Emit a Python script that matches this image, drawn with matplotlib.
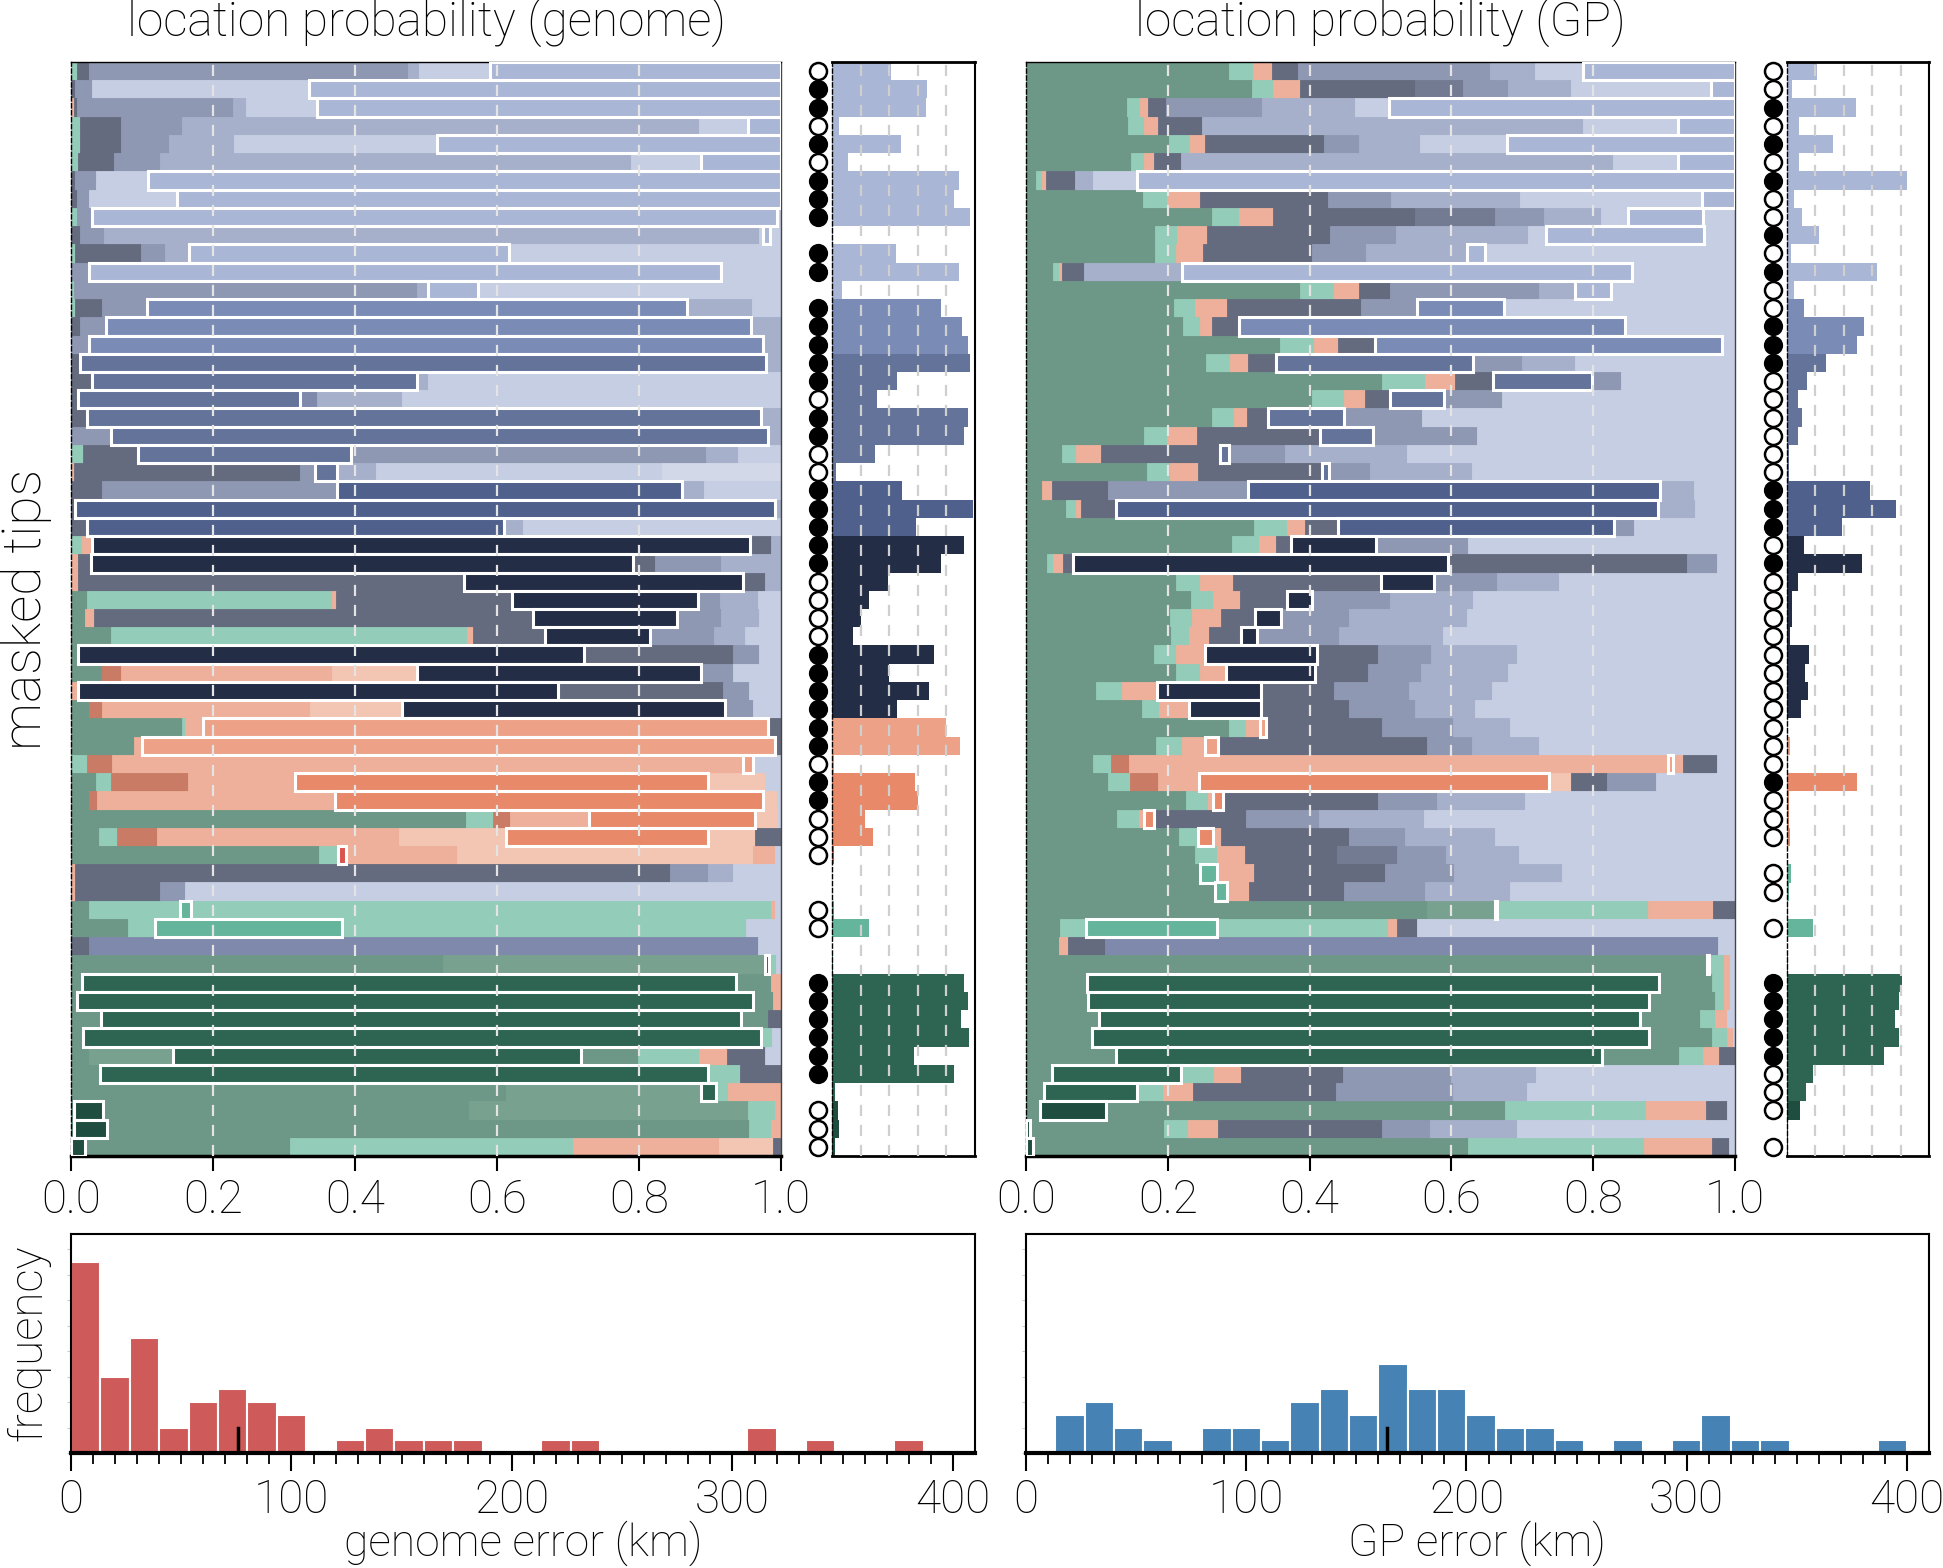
import matplotlib
matplotlib.use("Agg")
import matplotlib.pyplot as plt
import numpy as np

plt.rcParams['font.family'] = ['Roboto', 'DejaVu Sans']
plt.rcParams['font.weight'] = 'light'

# faded colours for non-true locations, full colours for the true location
FADED = {
    'G': '#6d9786', 'G2': '#79a18f', 'M': '#93ccb8', 'S': '#eeb09a', 'S2': '#f3c5b3',
    'D': '#c97b65', 'N': '#656b7e', 'N2': '#737b93', 'P': '#7f89ab', 'B': '#8e98b3',
    'C': '#a6b0ca', 'L': '#c6cee3', 'W': '#d2d8e8',
}
TRUE = {
    'tg': '#2d6452', 'tgd': '#1f4e40', 'tt': '#64b59b', 'ts': '#eda287', 'to': '#e8896a',
    'tr': '#d9534f', 'tn': '#232d46', 'tb1': '#4f608c', 'tb2': '#63739a', 'tb3': '#7a8bb6',
    'tb4': '#aab6d5',
}

# location probability per masked tip (genome model), segments in plotting order
genome_rows = [
    [('M', .008), ('N', .018), ('B', .449), ('C', .015), ('L', .10), ('tb4', .41)],
    [('N', .006), ('B', .024), ('L', .305), ('tb4', .664)],
    [('S', .004), ('N', .004), ('B', .22), ('C', .018), ('L', .10), ('tb4', .654)],
    [('M', .013), ('N', .058), ('B', .085), ('C', .729), ('L', .068), ('tb4', .047)],
    [('M', .013), ('N', .058), ('B', .067), ('C', .092), ('L', .285), ('tb4', .485)],
    [('M', .01), ('N', .05), ('B', .065), ('C', .664), ('L', .099), ('tb4', .112)],
    [('N', .005), ('B', .03), ('L', .074), ('tb4', .891)],
    [('N', .008), ('B', .018), ('L', .123), ('tb4', .851)],
    [('M', .008), ('B', .022), ('tb4', .964), ('L', .006)],
    [('N', .013), ('B', .034), ('C', .922), ('L', .006), ('tb4', .009), ('L', .016)],
    [('M', .006), ('N', .092), ('B', .034), ('C', .034), ('tb4', .451), ('L', .383)],
    [('B', .026), ('tb4', .889), ('L', .085)],
    [('M', .004), ('B', .484), ('C', .015), ('tb4', .07), ('L', .427)],
    [('M', .006), ('N', .038), ('B', .063), ('tb3', .76), ('C', .092), ('L', .041)],
    [('N', .013), ('B', .036), ('tb3', .909), ('C', .042)],
    [('B', .026), ('tb3', .948), ('C', .026)],
    [('N', .013), ('tb2', .966), ('C', .021)],
    [('N', .03), ('tb2', .458), ('C', .015), ('L', .497)],
    [('N', .01), ('tb2', .312), ('P', .024), ('C', .12), ('L', .534)],
    [('N', .022), ('tb2', .95), ('C', .028)],
    [('B', .057), ('tb2', .925), ('C', .018)],
    [('M', .017), ('N', .078), ('tb2', .30), ('B', .50), ('C', .045), ('L', .06)],
    [('S', .004), ('N', .318), ('B', .022), ('tb2', .03), ('C', .055), ('L', .404), ('W', .167)],
    [('N', .044), ('B', .33), ('tb1', .487), ('C', .031), ('L', .108)],
    [('N', .005), ('tb1', .986), ('C', .009)],
    [('N', .022), ('tb1', .588), ('C', .027), ('L', .363)],
    [('M', .015), ('S', .015), ('tn', .926), ('N', .03), ('C', .014)],
    [('S', .01), ('N', .018), ('tn', .763), ('N', .031), ('B', .094), ('C', .084)],
    [('S', .01), ('N', .544), ('tn', .392), ('N', .031), ('C', .023)],
    [('G', .022), ('M', .345), ('S', .006), ('N', .248), ('tn', .262), ('B', .031), ('C', .054), ('L', .032)],
    [('G', .02), ('S', .013), ('N', .618), ('tn', .202), ('B', .062), ('C', .054), ('L', .031)],
    [('G', .057), ('M', .501), ('S', .008), ('N', .101), ('tn', .149), ('B', .089), ('C', .045), ('L', .05)],
    [('G', .01), ('tn', .712), ('N', .211), ('B', .036), ('L', .031)],
    [('G', .044), ('D', .027), ('S', .296), ('S2', .121), ('tn', .40), ('B', .045), ('L', .067)],
    [('S', .01), ('tn', .676), ('N', .233), ('B', .036), ('L', .045)],
    [('G', .026), ('D', .018), ('S', .292), ('S2', .13), ('tn', .455), ('B', .039), ('L', .04)],
    [('G', .156), ('M', .005), ('S', .025), ('ts', .796), ('N', .018)],
    [('G', .089), ('S', .011), ('ts', .892), ('N', .008)],
    [('M', .022), ('D', .036), ('S', .889), ('ts', .013), ('L', .04)],
    [('G', .035), ('M', .022), ('D', .108), ('S', .15), ('to', .582), ('S2', .081), ('L', .022)],
    [('G', .026), ('D', .01), ('S', .336), ('to', .603), ('S2', .019), ('L', .006)],
    [('G', .556), ('M', .039), ('D', .024), ('S', .11), ('to', .234), ('S2', .033), ('L', .004)],
    [('G', .04), ('M', .025), ('D', .056), ('S', .341), ('S2', .151), ('to', .285), ('S2', .067), ('N', .036)],
    [('G', .349), ('M', .027), ('tr', .011), ('S', .157), ('S2', .417), ('S', .03), ('L', .009)],
    [('S', .005), ('N', .838), ('B', .054), ('C', .036), ('L', .067)],
    [('S', .005), ('N', .12), ('B', .036), ('L', .839)],
    [('G', .026), ('M', .127), ('tt', .016), ('M', .817), ('S', .006), ('L', .008)],
    [('G', .08), ('M', .039), ('tt', .262), ('M', .57), ('L', .049)],
    [('N', .026), ('P', .942), ('L', .032)],
    [('G', .524), ('G2', .453), ('tg', .006), ('M', .01), ('L', .007)],
    [('G', .015), ('tg', .922), ('G', .049), ('S', .014)],
    [('G', .008), ('tg', .952), ('G', .029), ('S', .011)],
    [('G', .042), ('tg', .902), ('G', .038), ('N', .018)],
    [('G', .017), ('tg', .955), ('M', .015), ('L', .013)],
    [('G', .026), ('G2', .117), ('tg', .575), ('G', .081), ('M', .085), ('S', .04), ('N', .054), ('L', .022)],
    [('G', .041), ('tg', .856), ('M', .045), ('N', .058)],
    [('G', .612), ('G2', .276), ('tg', .02), ('M', .018), ('S', .074)],
    [('G', .004), ('tgd', .041), ('G', .516), ('G2', .392), ('M', .039), ('S', .008)],
    [('G', .004), ('tgd', .046), ('G', .905), ('M', .031), ('S', .014)],
    [('tgd', .02), ('G', .289), ('M', .398), ('S', .206), ('S2', .076), ('N', .011)],
]

# location probability per masked tip (GP model)
gp_rows = [
    [('G', .286), ('M', .034), ('S', .027), ('N', .036), ('B', .271), ('C', .064), ('L', .068), ('tb4', .214)],
    [('G', .319), ('M', .03), ('S', .038), ('N', .161), ('N2', .068), ('B', .064), ('C', .089), ('L', .197), ('tb4', .034)],
    [('G', .142), ('M', .019), ('S', .011), ('N', .025), ('B', .136), ('C', .131), ('L', .048), ('tb4', .488)],
    [('G', .144), ('M', .023), ('S', .019), ('N', .062), ('C', .538), ('L', .133), ('tb4', .081)],
    [('G', .201), ('M', .03), ('S', .021), ('N', .169), ('B', .048), ('C', .087), ('L', .123), ('tb4', .321)],
    [('G', .148), ('M', .019), ('S', .013), ('N', .038), ('C', .61), ('L', .091), ('tb4', .081)],
    [('G', .014), ('M', .008), ('S', .006), ('N', .041), ('C', .025), ('L', .062), ('tb4', .844)],
    [('G', .165), ('M', .034), ('S', .047), ('N', .18), ('B', .089), ('C', .182), ('L', .257), ('tb4', .046)],
    [('G', .262), ('M', .039), ('S', .048), ('N', .199), ('N2', .114), ('B', .068), ('C', .081), ('L', .038), ('tb4', .106), ('L', .045)],
    [('G', .182), ('M', .031), ('S', .042), ('N', .174), ('B', .093), ('C', .186), ('L', .025), ('tb4', .223), ('L', .044)],
    [('G', .182), ('M', .029), ('S', .039), ('N', .154), ('B', .076), ('C', .142), ('tb4', .025), ('L', .353)],
    [('G', .038), ('M', .008), ('S', .005), ('N', .031), ('C', .138), ('tb4', .635), ('L', .145)],
    [('G', .387), ('M', .048), ('S', .035), ('N', .044), ('B', .209), ('C', .051), ('tb4', .051), ('L', .175)],
    [('G', .209), ('M', .03), ('S', .044), ('N', .189), ('B', .079), ('tb3', .123), ('L', .326)],
    [('G', .222), ('M', .024), ('S', .016), ('N', .038), ('tb3', .545), ('L', .155)],
    [('G', .358), ('M', .048), ('S', .034), ('N', .052), ('tb3', .49), ('L', .018)],
    [('G', .254), ('M', .034), ('S', .025), ('N', .039), ('tb2', .278), ('B', .069), ('C', .076), ('L', .225)],
    [('G', .502), ('M', .061), ('S', .042), ('N', .053), ('tb2', .14), ('B', .041), ('L', .161)],
    [('G', .404), ('M', .044), ('S', .03), ('N', .036), ('tb2', .076), ('B', .081), ('L', .329)],
    [('G', .262), ('M', .031), ('S', .019), ('N', .03), ('tb2', .106), ('B', .11), ('L', .442)],
    [('G', .167), ('M', .032), ('S', .042), ('N', .174), ('tb2', .074), ('B', .147), ('L', .364)],
    [('G', .051), ('M', .019), ('S', .036), ('N', .167), ('tb2', .013), ('B', .08), ('C', .171), ('L', .463)],
    [('G', .171), ('M', .032), ('S', .04), ('N', .174), ('tb2', .011), ('B', .057), ('C', .144), ('L', .371)],
    [('G', .023), ('S', .013), ('N', .079), ('B', .198), ('tb1', .581), ('C', .048), ('L', .058)],
    [('G', .057), ('M', .013), ('S', .007), ('N', .05), ('tb1', .765), ('C', .051), ('L', .057)],
    [('G', .321), ('M', .047), ('S', .026), ('N', .046), ('tb1', .39), ('B', .028), ('L', .142)],
    [('G', .29), ('M', .038), ('S', .025), ('N', .021), ('tn', .12), ('B', .13), ('L', .376)],
    [('G', .029), ('M', .009), ('S', .014), ('N', .014), ('tn', .529), ('N', .338), ('B', .042), ('L', .025)],
    [('G', .212), ('M', .034), ('S', .046), ('N', .208), ('tn', .075), ('B', .09), ('C', .087), ('L', .248)],
    [('G', .233), ('M', .031), ('S', .038), ('N', .066), ('tn', .035), ('B', .111), ('C', .116), ('L', .37)],
    [('G', .203), ('M', .031), ('S', .041), ('N', .048), ('tn', .036), ('B', .096), ('C', .167), ('L', .378)],
    [('G', .205), ('M', .025), ('S', .028), ('N', .045), ('tn', .023), ('B', .116), ('C', .146), ('L', .412)],
    [('G', .181), ('M', .031), ('S', .04), ('tn', .158), ('N', .087), ('B', .074), ('C', .121), ('L', .308)],
    [('G', .212), ('M', .034), ('S', .036), ('tn', .125), ('N', .075), ('B', .075), ('C', .123), ('L', .32)],
    [('G', .099), ('M', .036), ('S', .05), ('tn', .147), ('N', .102), ('B', .106), ('C', .117), ('L', .343)],
    [('G', .163), ('M', .025), ('S', .042), ('tn', .102), ('N', .123), ('B', .093), ('C', .085), ('L', .367)],
    [('G', .286), ('M', .025), ('S', .019), ('ts', .008), ('N', .164), ('B', .1), ('C', .081), ('L', .317)],
    [('G', .184), ('M', .036), ('S', .033), ('ts', .018), ('N', .294), ('B', .064), ('C', .095), ('L', .276)],
    [('G', .095), ('M', .025), ('D', .025), ('S', .76), ('ts', .007), ('S', .015), ('N', .048), ('L', .025)],
    [('G', .116), ('M', .03), ('D', .04), ('S', .058), ('to', .494), ('S2', .031), ('N', .051), ('B', .068), ('L', .112)],
    [('G', .226), ('M', .03), ('S', .008), ('to', .014), ('N', .219), ('B', .082), ('C', .125), ('L', .296)],
    [('G', .129), ('M', .03), ('S', .007), ('to', .015), ('N', .13), ('B', .102), ('C', .148), ('L', .439)],
    [('G', .216), ('M', .027), ('to', .021), ('S', .011), ('N', .18), ('B', .08), ('C', .127), ('L', .338)],
    [('G', .239), ('M', .031), ('S', .039), ('N', .129), ('N2', .085), ('B', .07), ('C', .103), ('L', .304)],
    [('G', .245), ('tt', .025), ('S', .052), ('N', .184), ('B', .097), ('C', .153), ('L', .244)],
    [('G', .267), ('tt', .016), ('S', .032), ('N', .133), ('B', .115), ('C', .12), ('L', .317)],
    [('G', .565), ('G2', .096), ('tt', .004), ('M', .212), ('S', .092), ('N', .031)],
    [('G', .048), ('M', .036), ('tt', .186), ('M', .24), ('S', .013), ('N', .028), ('L', .449)],
    [('G', .047), ('S', .012), ('N', .053), ('P', .864), ('L', .024)],
    [('G', .96), ('tg', .004), ('M', .021), ('S', .008), ('L', .007)],
    [('G', .086), ('tg', .807), ('G', .075), ('M', .017), ('S', .008), ('L', .007)],
    [('G', .088), ('tg', .791), ('G', .093), ('M', .013), ('S', .008), ('L', .007)],
    [('G', .103), ('tg', .763), ('G', .085), ('M', .021), ('S', .017), ('L', .011)],
    [('G', .093), ('tg', .786), ('G', .089), ('M', .021), ('S', .008), ('L', .003)],
    [('G', .127), ('tg', .686), ('G', .108), ('M', .034), ('S', .023), ('N', .022)],
    [('G', .037), ('tg', .181), ('M', .047), ('S', .038), ('N', .144), ('B', .153), ('C', .119), ('L', .281)],
    [('G', .025), ('tg', .131), ('M', .037), ('S', .042), ('N', .202), ('B', .165), ('C', .104), ('L', .294)],
    [('G', .02), ('tgd', .093), ('G', .562), ('M', .199), ('S', .085), ('N', .03), ('L', .011)],
    [('tgd', .006), ('G', .188), ('M', .034), ('S', .043), ('N', .231), ('B', .068), ('C', .123), ('L', .307)],
    [('tgd', .01), ('G', .614), ('M', .247), ('S', .096), ('N', .025), ('L', .008)],
]

# 1 = correct (filled), 0 = wrong (open), -1 = no marker
genome_dots = [0, 1, 1, 0, 1, 0, 1, 1, 1, -1, 1, 1, -1, 1, 1, 1, 1, 1, 0, 1,
               1, 0, 0, 1, 1, 1, 1, 1, 0, 0, 0, 0, 1, 1, 1, 1, 1, 1, 0, 1,
               1, 0, 0, 0, -1, -1, 0, 0, -1, -1, 1, 1, 1, 1, 1, 1, -1, 0, 0, 0]
gp_dots = [0, 0, 1, 0, 1, 0, 1, 0, 0, 1, 0, 1, 0, 0, 1, 1, 1, 0, 0, 0,
           0, 0, 0, 1, 1, 1, 0, 1, 0, 0, 0, 0, 0, 0, 0, 0, 0, 0, 0, 1,
           0, 0, 0, -1, 0, 0, -1, 0, -1, -1, 1, 1, 1, 1, 1, 0, 0, 0, -1, 0]

# error histograms (counts per 13.33 km bin, 0-400 km)
bin_edges = np.linspace(0, 400, 31)
genome_counts = [15, 6, 9, 2, 4, 5, 4, 3, 0, 1, 2, 1, 1, 1, 0, 0, 1, 1, 0, 0,
                 0, 0, 0, 2, 0, 1, 0, 0, 1, 0]
gp_counts = [0, 3, 4, 2, 1, 0, 2, 2, 1, 4, 5, 3, 7, 5, 5, 3, 2, 2, 1, 0,
             1, 0, 1, 3, 1, 1, 0, 0, 0, 1]
genome_mean = 75.6
gp_mean = 163.9

W, H = 1943, 1568
fig = plt.figure(figsize=(W / 100, H / 100), dpi=100)


def fr(x0, y0, x1, y1):
    return [x0 / W, 1 - y1 / H, (x1 - x0) / W, (y1 - y0) / H]


def draw_panel(ax, axs, rows, dots):
    n = len(rows)
    for i, row in enumerate(rows):
        total = sum(w for _, w in row)
        left = 0.0
        for key, w in row:
            w = w / total
            if key in TRUE:
                ax.barh(i, w, left=left, height=1.0, color=TRUE[key],
                        edgecolor='white', linewidth=2.2, zorder=3)
                axs.barh(i, w, height=1.0, color=TRUE[key], linewidth=0, zorder=2)
            else:
                c = FADED[key]
                ax.barh(i, w, left=left, height=1.0, color=c, edgecolor=c,
                        linewidth=0.6, zorder=2)
            left += w
    for x in [0.2, 0.4, 0.6, 0.8]:
        ax.axvline(x, color='#e4e4e4', ls=(0, (5, 4)), lw=1.6, zorder=4)
        axs.axvline(x, color='#cfcfcf', ls=(0, (5, 4)), lw=1.6, zorder=4)
    for a in (ax, axs):
        a.set_ylim(n - 0.5, -0.5)
        a.set_xlim(0, 1)
        a.set_yticks([])
    ax.set_xticks([0, 0.2, 0.4, 0.6, 0.8, 1.0])
    ax.set_xticklabels(['0.0', '0.2', '0.4', '0.6', '0.8', '1.0'])
    ax.tick_params(axis='x', length=11, width=1.5, labelsize=33, pad=5)
    ax.spines['left'].set_linestyle((0, (3, 2)))
    ax.spines['left'].set_linewidth(1.0)
    ax.spines['top'].set_linewidth(1.0)
    ax.spines['right'].set_linewidth(1.0)
    ax.spines['right'].set_color('#444444')
    ax.spines['bottom'].set_linewidth(2.5)
    axs.set_xticks([])
    axs.spines['left'].set_linestyle((0, (3, 2)))
    axs.spines['left'].set_linewidth(1.0)
    axs.spines['top'].set_linewidth(2.0)
    axs.spines['right'].set_linewidth(1.5)
    axs.spines['bottom'].set_linewidth(2.0)
    ys = np.arange(n)
    tr = axs.get_yaxis_transform()
    dots = np.array(dots)
    filled = ys[dots == 1]
    empty = ys[dots == 0]
    axs.scatter(np.full(len(filled), -0.1), filled, s=150, c='black',
                edgecolors='black', linewidths=1.6, transform=tr, clip_on=False, zorder=5)
    axs.scatter(np.full(len(empty), -0.1), empty, s=150, c='white',
                edgecolors='black', linewidths=1.8, transform=tr, clip_on=False, zorder=5)


def draw_hist(ax, counts, mean, color):
    ax.bar(bin_edges[:-1], counts, width=np.diff(bin_edges), align='edge',
           color=color, edgecolor='white', linewidth=1.5, zorder=2)
    ax.plot([mean, mean], [0, 2], color='black', lw=2.5, zorder=3)
    ax.set_xlim(0, 410)
    ax.set_ylim(0, 17.2)
    ax.set_xticks([0, 100, 200, 300, 400])
    ax.set_xticks(np.arange(0, 410, 10), minor=True)
    ax.tick_params(axis='x', which='major', length=13, width=1.5, labelsize=33, pad=5)
    ax.tick_params(axis='x', which='minor', length=8, width=1.3)
    ax.set_yticks(np.arange(0, 17, 2))
    ax.set_yticklabels([])
    ax.tick_params(axis='y', length=3, width=0.8, color='#cccccc')
    ax.spines['bottom'].set_linewidth(3)
    for s in ['top', 'left', 'right']:
        ax.spines[s].set_linewidth(1.5)


ax1 = fig.add_axes(fr(71, 62, 781, 1156))
ax1s = fig.add_axes(fr(832, 62, 975, 1156))
ax2 = fig.add_axes(fr(1026, 62, 1735, 1156))
ax2s = fig.add_axes(fr(1787, 62, 1929, 1156))
draw_panel(ax1, ax1s, genome_rows, genome_dots)
draw_panel(ax2, ax2s, gp_rows, gp_dots)

h1 = fig.add_axes(fr(71, 1234, 975, 1453))
h2 = fig.add_axes(fr(1026, 1234, 1929, 1453))
draw_hist(h1, genome_counts, genome_mean, '#cf5a5a')
draw_hist(h2, gp_counts, gp_mean, '#4682b4')

fig.text(426 / W, 1 - 22 / H, 'location probability (genome)', ha='center', va='center', fontsize=34.5)
fig.text(1380 / W, 1 - 22 / H, 'location probability (GP)', ha='center', va='center', fontsize=34.5)
fig.text(26 / W, 1 - 609 / H, 'masked tips', rotation=90, ha='center', va='center', fontsize=38.5)
fig.text(28 / W, 1 - 1343 / H, 'frequency', rotation=90, ha='center', va='center', fontsize=33)
fig.text(523 / W, 1 - 1543 / H, 'genome error (km)', ha='center', va='center', fontsize=32)
fig.text(1477 / W, 1 - 1543 / H, 'GP error (km)', ha='center', va='center', fontsize=32)

fig.savefig('out.png', dpi=100)
